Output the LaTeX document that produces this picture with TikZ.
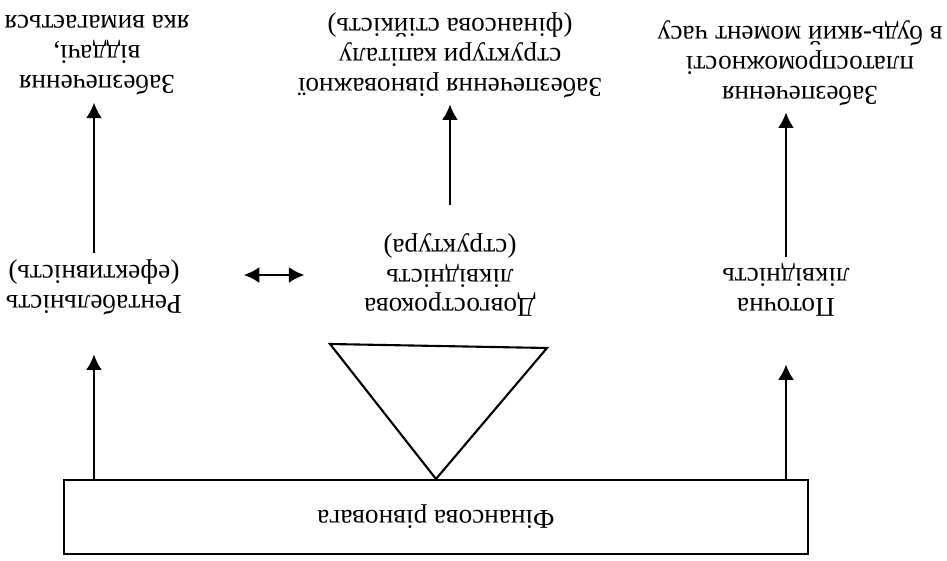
\documentclass[tikz,border=0pt]{standalone}
\usepackage{fontspec}
\setmainfont{Liberation Serif}
\usetikzlibrary{arrows.meta}

\begin{document}
\begin{tikzpicture}[rotate=180,transform shape,x=0.02cm,y=0.02cm,
  >={Latex[length=3.1mm,width=3.2mm]},line width=1.2pt,
  every node/.style={font=\fontsize{15.5}{17}\selectfont,align=center},
  box/.style={draw,minimum width=14.9cm,minimum height=1.48cm}]
\useasboundingbox (0,0) rectangle (947,561);
\node[box] (bal) at (511,517) {Фінансова рівновага};
\node (rent) at (853,287) {Рентабельність\\(ефективність)};
\node (dlik) at (497,275) {Довгострокова\\ліквідність\\(структура)};
\node (plik) at (161,290) {Поточна\\ліквідність};
\node (zrent) at (850,55) {Забезпечення\\віддачі,\\яка вимагається};
\node (zstr) at (497,55) {Забезпечення рівноважної\\структури капіталу\\(фінансова стійкість)};
\node (zplat) at (147,63) {Забезпечення\\платоспроможності\\в будь-який момент часу};
\draw (bal.south) -- (400,348) -- (617,344) -- cycle;
\draw[->,shorten >=0.66cm] (bal.south -| rent) -- (rent.north);
\draw[->,shorten >=0.82cm] (bal.south -| plik) -- (plik.north);
\draw[->,shorten >=0.02cm] (rent.south) -- (zrent.north -| rent.south);
\draw[->,shorten <=0.42cm] (dlik.south) -- (zstr.north);
\draw[->] (plik.south) -- (zplat.north -| plik.south);
\draw[<->,shorten <=1.1cm,shorten >=1.06cm] (rent.west |- dlik) -- (dlik.east);
\end{tikzpicture}
\end{document}
